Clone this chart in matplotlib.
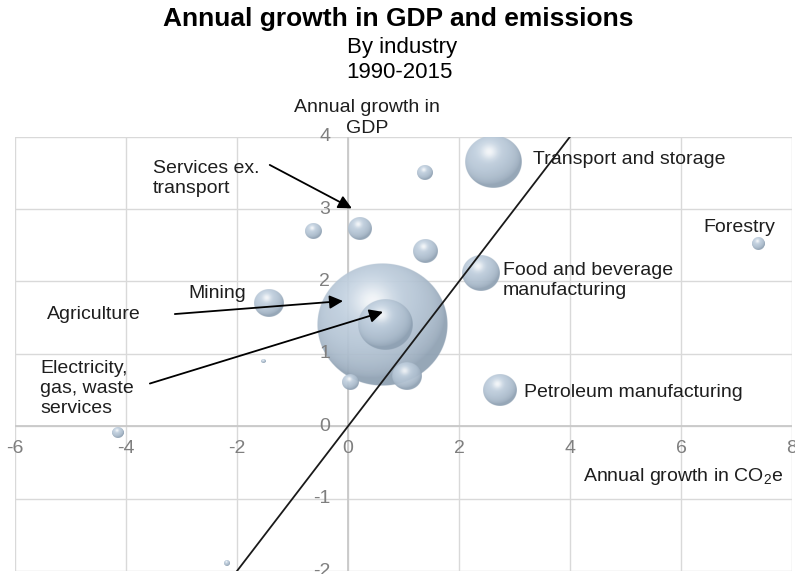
import numpy as np
import matplotlib
matplotlib.use("Agg")
import matplotlib.pyplot as plt
from matplotlib.transforms import ScaledTranslation

plt.rcParams["font.family"] = ["Liberation Sans", "DejaVu Sans"]
plt.rcParams["mathtext.fontset"] = "custom"
plt.rcParams["mathtext.rm"] = "Liberation Sans"
plt.rcParams["mathtext.it"] = "Liberation Sans:italic"

# Average annual growth 1990-2015 (%), one bubble per industry
co2_growth = [2.61, 1.38, -0.63, 0.21, 1.39, 2.39, 7.39, -1.43,
              0.62, 0.67, 1.06, 0.04, -1.53, -4.15, -2.18, 2.74]
gdp_growth = [3.66, 3.51, 2.70, 2.73, 2.41, 2.11, 2.52, 1.70,
              1.40, 1.41, 0.69, 0.61, 0.90, -0.09, -1.90, 0.50]
bubble_size = [18.6, 1.5, 1.6, 3.4, 3.6, 8.4, 1.0, 5.1,
               100.0, 17.3, 5.0, 1.6, 0.1, 0.8, 0.2, 6.6]

x_ticks = [-6, -4, -2, 0, 2, 4, 6, 8]
y_ticks = [-2, -1, 0, 1, 2, 3, 4]

TEXT = "#1e1e1e"
GRID = "#d9d9d9"
TICK = "#7f7f7f"
MAX_RADIUS_PX = 65.0

fig = plt.figure(figsize=(7.95, 5.74), dpi=100)
ax = fig.add_axes([15 / 795, 3 / 574, 777 / 795, 434.3 / 574])
ax.set_xlim(x_ticks[0], x_ticks[-1])
ax.set_ylim(y_ticks[0], y_ticks[-1])
for s in ax.spines.values():
    s.set_visible(False)
ax.set_xticks(x_ticks)
ax.set_yticks(y_ticks)
ax.tick_params(length=0, labelbottom=False, labelleft=False)
ax.set_axisbelow(True)
ax.grid(True, color=GRID, lw=1.0)
ax.axhline(0, color="#c9c9c9", lw=1.3, zorder=1)
ax.axvline(0, color="#c9c9c9", lw=1.3, zorder=1)

# Shaded sphere texture used for every bubble
n = 256
u = np.linspace(-1, 1, n)
X, Y = np.meshgrid(u, -u)
R = np.sqrt(X ** 2 + Y ** 2)
Z = np.sqrt(np.clip(1 - R ** 2, 0, None))
L = np.array([-0.30, 0.50, 0.81])
L /= np.linalg.norm(L)
diffuse = np.clip(X * L[0] + Y * L[1] + Z * L[2], 0, 1) ** 0.7
highlight = np.exp(-((X + 0.15) ** 2 + (Y - 0.38) ** 2) / (2 * 0.2 ** 2))
dark = np.array([0.56, 0.63, 0.70])
light = np.array([0.76, 0.82, 0.88])
rgb = dark + (light - dark) * diffuse[..., None]
rgb = rgb + (1 - rgb) * 0.8 * highlight[..., None]
alpha = np.clip((1 - R) * n / 2, 0, 1) * 0.93
sphere = np.dstack([np.clip(rgb, 0, 1), alpha])

bbox = ax.get_position()
ax_w_px = bbox.width * fig.get_figwidth() * fig.dpi
ax_h_px = bbox.height * fig.get_figheight() * fig.dpi
px_x = ax_w_px / (x_ticks[-1] - x_ticks[0])
px_y = ax_h_px / (y_ticks[-1] - y_ticks[0])
smax = max(bubble_size)

order = np.argsort(bubble_size)[::-1]
for k, i in enumerate(order):
    r_px = MAX_RADIUS_PX * np.sqrt(bubble_size[i] / smax)
    rx = r_px / px_x
    ry = 0.94 * r_px / px_y
    cx, cy = co2_growth[i], gdp_growth[i]
    ax.imshow(sphere, extent=(cx - rx, cx + rx, cy - ry, cy + ry),
              origin="upper", aspect="auto", interpolation="antialiased",
              zorder=3 + k * 0.01)

ax.set_xlim(x_ticks[0], x_ticks[-1])
ax.set_ylim(y_ticks[0], y_ticks[-1])

# Equal growth reference line
ax.axline((0, 0), slope=1, color="#1a1a1a", lw=1.3, zorder=4)

# Tick labels sitting on the zero axes
down = ax.transData + ScaledTranslation(0, -22 / 100, fig.dpi_scale_trans)
left = ax.transData + ScaledTranslation(-18 / 100, 0, fig.dpi_scale_trans)
for t in x_ticks:
    ax.text(t, 0, f"{t}", transform=down, ha="center", va="center",
            fontsize=14, color=TICK, zorder=6, clip_on=False)
for t in y_ticks:
    ax.text(0, t, f"{t}", transform=left, ha="right", va="center",
            fontsize=14, color=TICK, zorder=6, clip_on=False)

# Axis titles
ax.text(0.34, 4.26, "Annual growth in\nGDP", ha="center", va="center",
        fontsize=14, color=TEXT, linespacing=1.25, clip_on=False, zorder=6)
ax.text(4.23, -0.69, "Annual growth in CO$_2$e", ha="left", va="center",
        fontsize=14, color=TEXT, zorder=6)

# Industry labels
labels = [
    ("Transport and storage", 3.33, 3.68),
    ("Forestry", 6.40, 2.75),
    ("Food and beverage\nmanufacturing", 2.79, 2.01),
    ("Petroleum manufacturing", 3.17, 0.46),
    ("Mining", -2.88, 1.83),
    ("Agriculture", -5.42, 1.54),
    ("Electricity,\ngas, waste\nservices", -5.55, 0.52),
    ("Services ex.\ntransport", -3.51, 3.42),
]
for txt, lx, ly in labels:
    ax.text(lx, ly, txt, ha="left", va="center", fontsize=14, color=TEXT,
            linespacing=1.25, zorder=6)

arrows = [
    ((-1.41, 3.61), (0.07, 3.01)),
    ((-3.12, 1.55), (-0.09, 1.73)),
    ((-3.57, 0.59), (0.63, 1.58)),
]
for start, end in arrows:
    ax.annotate("", xy=end, xytext=start, zorder=7,
                arrowprops=dict(arrowstyle="-|>", color="black", lw=1.3,
                                mutation_scale=20, shrinkA=0, shrinkB=0))

# Titles
fig.text(398 / 795, 1 - 19 / 574, "Annual growth in GDP and emissions",
         ha="center", va="center", fontsize=19, fontweight="bold", color="black")
fig.text(402 / 795, 1 - 47 / 574, "By industry", ha="center", va="center",
         fontsize=16, color="black")
fig.text(399 / 795, 1 - 72 / 574, "1990-2015", ha="center", va="center",
         fontsize=16, color="black")

fig.savefig("out.png", dpi=100)
